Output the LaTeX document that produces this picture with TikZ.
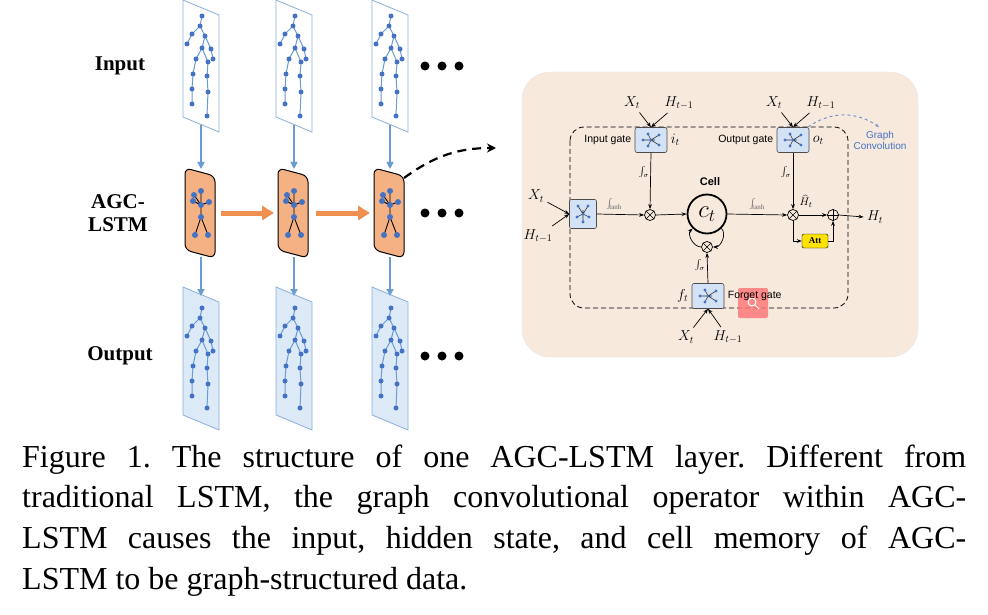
\documentclass[tikz,border=0pt]{standalone}
\usepackage{fontspec}
\setmainfont{Liberation Serif}
\newfontfamily\sansf{Liberation Sans}
\usetikzlibrary{arrows.meta,calc}
\definecolor{bl}{HTML}{4472C4}
\definecolor{ln}{HTML}{6A9BD1}
\definecolor{gbox}{HTML}{D3E3F5}
\definecolor{peach}{HTML}{F8E9DD}
\definecolor{org}{HTML}{F4B183}
\definecolor{oarr}{HTML}{ED7D31}
\frenchspacing
\begin{document}
\begin{tikzpicture}[x=1pt,y=-1pt,
 frame/.style={draw=ln!80, line width=0.8pt},
 varr/.style={-{Triangle[length=7pt,width=7pt]}, draw=ln, line width=1.6pt},
 oar/.style={-{Triangle[length=12pt,width=14pt]}, draw=oarr!85, line width=5pt},
 lab/.style={font=\bfseries\fontsize{21}{23}\selectfont},
 gbx/.style={draw=black!70, fill=gbox, rounded corners=2pt, line width=0.6pt},
 ln1/.style={draw=black, line width=0.7pt},
 ar/.style={ln1, -{Stealth[length=5pt]}},
 sm/.style={font=\sansf\fontsize{10.5}{11}\selectfont},
 mth/.style={font=\fontsize{14}{14}\selectfont},
 captxt/.style={font=\fontsize{32}{35}\selectfont, anchor=west, inner sep=0}]
\useasboundingbox (0,0) rectangle (988,615);
% skeleton
\tikzset{pics/skel/.style={code={
 \draw[ln, line width=1pt] (19,12)--(17,22)--(9,30)--(4,40)
   (17,22)--(22,32)--(28,45)--(30,55) (22,32)--(19,44)--(13,55)--(10,70)--(9,85)--(9,100)
   (19,44)--(25,58)--(24,72)--(25,88)--(24,112);
 \foreach \p in {(19,12),(17,22),(9,30),(4,40),(22,32),(28,45),(30,55),(19,44),(13,55),(10,70),(9,85),(9,100),(25,58),(24,72),(25,88),(24,112)}
   \fill[bl] \p circle (2.5pt);
}}}
\tikzset{pics/star/.style={code={
 \draw[black, line width=0.9pt] (0,0)--(-7,-10) (0,0)--(8,-3) (0,0)--(-8,-4) (0,-2)--(0,-14) (0,0)--(0,12)--(-6,30) (0,12)--(7,30);
 \foreach \p in {(-7,-10),(8,-3),(-8,-4),(0,-14),(-6,30),(7,30),(0,12),(0,0)} \fill[bl] \p circle (3pt);
}}}
\tikzset{pics/gicon/.style={code={
 \draw[black!80, line width=0.6pt] (-8,0)--(4,0) (0,0)--(-3,-6) (0,0)--(-3,6) (0,0)--(8,-5) (0,0)--(8,5);
 \foreach \p in {(-8,0),(0,0),(-3,-6),(-3,6),(8,-5),(8,5)} \fill[bl] \p circle (1.6pt);
}}}
% labels
\node[lab] (lin) at (120,66) {Input};
\node[lab, align=center] (lagc) at (118,213) {AGC-\\LSTM};
\node[lab] (lout) at (120,356) {Output};
\foreach \c/\xx in {1/183,2/276,3/372}{
 \begin{scope}[shift={(\xx,0)}]
  \draw[frame, fill=white] (0,0)--(36,15)--(36,132)--(0,117)--cycle;
  \pic at (0,4) {skel};
  \draw[frame, fill=gbox!80] (0,287)--(36,302)--(36,430)--(0,415)--cycle;
  \pic at (0,296) {skel};
  \draw[line width=1pt, fill=org, rounded corners=6pt] (2,168)--(32,176)--(32,258)--(2,250)--cycle;
  \pic at (18,205) {star};
 \end{scope}
 \coordinate (ta\c) at (\xx+18,125);
 \coordinate (tb\c) at (\xx+18,169);
 \coordinate (tc\c) at (\xx+18,257);
 \coordinate (td\c) at (\xx+18,296);
 \draw[varr] (ta\c)--(tb\c);
 \draw[varr] (tc\c)--(td\c);
}
\coordinate (o1) at (221,213); \coordinate (o2) at (274,213);
\coordinate (o3) at (316,213); \coordinate (o4) at (370,213);
\draw[oar] (o1)--(o2); \draw[oar] (o3)--(o4);
\foreach \yy/\n in {66/1,213/2,356/3}{
 \node[circle, fill=black, inner sep=0, minimum size=9pt] (da\n) at (425,\yy) {};
 \node[circle, fill=black, inner sep=0, minimum size=9pt] (db\n) at (442,\yy) {};
 \node[circle, fill=black, inner sep=0, minimum size=9pt] (dc\n) at (459,\yy) {};
}
% panel
\draw[draw=black!10, fill=peach, rounded corners=28pt] (522,72) rectangle (918,357);
\coordinate (ds) at (404,178); \coordinate (de) at (496,148);
\draw[dashed, line width=2.2pt, dash pattern=on 9pt off 6pt, -{Stealth[length=9pt,width=9pt]}] (ds) to[bend left=18] (de);
\draw[dashed, line width=0.8pt, rounded corners=14pt, dash pattern=on 5pt off 3pt] (570,127) rectangle (848,308);
\node[gbx, minimum width=32pt, minimum height=25pt] (ig) at (651,140) {};
\pic at (651,140) {gicon};
\node[gbx, minimum width=32pt, minimum height=25pt] (og) at (793,140) {};
\pic at (793,140) {gicon};
\node[gbx, minimum width=27pt, minimum height=29pt] (lb) at (583,214) {};
\pic[rotate=90] at (583,214) {gicon};
\node[gbx, minimum width=32pt, minimum height=25pt] (fg) at (708,296) {};
\pic at (708,296) {gicon};
\node[fill=red!55, opacity=0.8, rounded corners=2pt, minimum size=30pt] (rs) at (753,303) {};
\draw[white, line width=1pt] (rs.center)++(-1,-1) circle (4pt) ++(3,3) -- ++(4,4);
\node[sm, anchor=east] at (ig.west) {Input gate};
\node[sm, anchor=east] at (og.west) {Output gate};
\node[sm, anchor=west] at (fg.east) {Forget gate};
\node[mth, anchor=west] at (ig.east) {$i_t$};
\node[mth, anchor=west] at (og.east) {$o_t$};
\node[mth, anchor=east] at (fg.west) {$f_t$};
\node[draw, circle, line width=0.7pt, inner sep=0, minimum size=11pt] (m1) at (650,215) {};
\draw[line width=0.6pt] (m1.45)--(m1.225) (m1.135)--(m1.315);
\node[draw, circle, line width=0.7pt, inner sep=0, minimum size=11pt] (m2) at (793,215) {};
\draw[line width=0.6pt] (m2.45)--(m2.225) (m2.135)--(m2.315);
\node[draw, circle, line width=0.7pt, inner sep=0, minimum size=11pt] (m3) at (707,247) {};
\draw[line width=0.6pt] (m3.45)--(m3.225) (m3.135)--(m3.315);
\node[draw, circle, line width=0.7pt, inner sep=0, minimum size=11pt] (pl) at (833,215) {};
\draw[line width=0.6pt] (pl.north)--(pl.south) (pl.west)--(pl.east);
\node[draw, circle, line width=1.8pt, minimum size=39pt, inner sep=0, font=\fontsize{26}{26}\selectfont] (ct) at (707,214) {$c_t$};
\node[sm, font=\sansf\bfseries\fontsize{11}{11}\selectfont] (cl) at (710,182) {Cell};
\node[draw=black, fill=yellow!85!orange, rounded corners=1.5pt, font=\bfseries\fontsize{9}{9}\selectfont, minimum width=26pt, minimum height=14pt, inner sep=1pt] (att) at (815,241) {Att};
\node[mth] (ht) at (875,217) {$H_t$};
% inputs
\node[mth] (x1) at (632,103) {$X_t$}; \node[mth] (h1) at (679,103) {$H_{t-1}$};
\node[mth] (x2) at (774,103) {$X_t$}; \node[mth] (h2) at (821,103) {$H_{t-1}$};
\node[mth] (x3) at (536,196) {$X_t$}; \node[mth] (h3) at (538,236) {$H_{t-1}$};
\node[mth] (x4) at (686,337) {$X_t$}; \node[mth] (h4) at (728,337) {$H_{t-1}$};
\draw[ar] (x1)--(ig.north); \draw[ar] (h1)--(ig.north);
\draw[ar] (x2)--(og.north); \draw[ar] (h2)--(og.north);
\draw[ar] (x3)--(lb.west); \draw[ar] (h3)--(lb.west);
\draw[ar] (x4)--(fg.south); \draw[ar] (h4)--(fg.south);
\draw[ar] (lb.east)--(m1.west); \draw[ar] (m1.east)--(ct.west);
\draw[ar] (ig.south)--(m1.north); \draw[ar] (og.south)--(m2.north);
\draw[ar] (ct.east)--(m2.west); \draw[ar] (m2.east)--(pl.west);
\draw[ar] (pl.east)--(ht.west);
\draw[ar] (fg.north)--(m3.south);
\draw[ar] (m2.south) |- (att.west); \draw[ar] (att.east) -| (pl.south);
\draw[ar] (m3.west) to[out=180,in=225] (ct.225);
\draw[ar] (ct.315) to[out=-45,in=0] (m3.east);
\node[font=\fontsize{10}{10}\selectfont, text=black!60] at (614,204) {$\int_{\!\mathrm{tanh}}$};
\node[font=\fontsize{10}{10}\selectfont, text=black!60] at (757,204) {$\int_{\!\mathrm{tanh}}$};
\node[font=\fontsize{10}{10}\selectfont] at (644,172) {$\int_\sigma$};
\node[font=\fontsize{10}{10}\selectfont] at (786,172) {$\int_\sigma$};
\node[font=\fontsize{10}{10}\selectfont] at (700,265) {$\int_\sigma$};
\node[font=\fontsize{11}{11}\selectfont, inner sep=0.5pt, anchor=south west] at (799,208) {$\widehat{H}_t$};
\coordinate (gs) at (808,127); \coordinate (ge) at (879,127);
\draw[dashed, draw=bl!80, line width=0.9pt, -{Stealth[length=4pt]}] (gs) to[bend left=35] (ge);
\node[sm, text=bl, align=center, font=\sansf\fontsize{10}{11}\selectfont] (gcv) at (880,140) {Graph\\Convolution};
% caption
\node[captxt] (c1) at (22,460) {\makebox[944pt][s]{Figure 1. The structure of one AGC-LSTM layer. Different from}};
\node[captxt] (c2) at (22,500) {\makebox[944pt][s]{traditional LSTM, the graph convolutional operator within AGC-}};
\node[captxt] (c3) at (22,541) {\makebox[944pt][s]{LSTM causes the input, hidden state, and cell memory of AGC-}};
\node[captxt] (c4) at (22,582) {LSTM to be graph-structured data.};
\end{tikzpicture}
\end{document}
